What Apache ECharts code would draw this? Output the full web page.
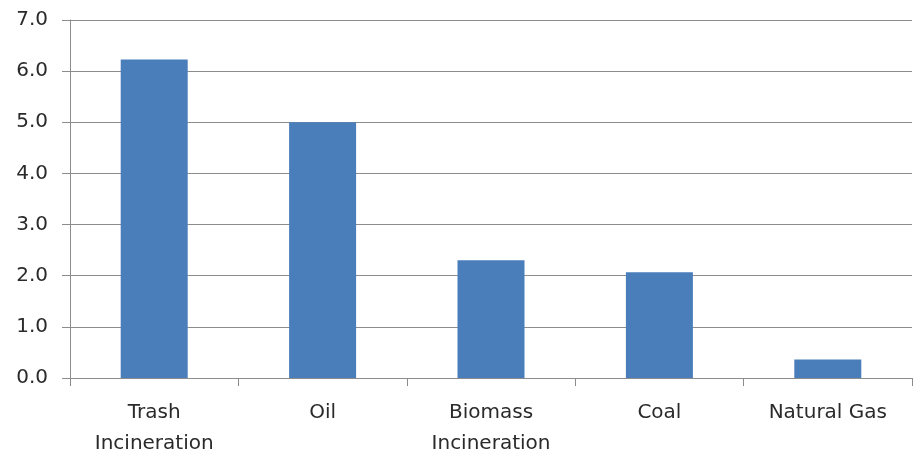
<!DOCTYPE html>
<html>
<head>
<meta charset="utf-8">
<script src="https://cdn.jsdelivr.net/npm/echarts@6/dist/echarts.min.js"></script>
<style>
  html, body { margin: 0; padding: 0; background: #fff; }
  #chart { width: 917px; height: 456px; }
</style>
</head>
<body>
<div id="chart"></div>
<script>
// categories and values
var categories = ['Trash\nIncineration', 'Oil', 'Biomass\nIncineration', 'Coal', 'Natural Gas'];
var values = [6.23, 5.0, 2.3, 2.07, 0.36];
var yTicks = { min: 0, max: 7, interval: 1 };

var chart = echarts.init(document.getElementById('chart'));
var axisColor = '#8c8c8c';
var textColor = '#2a2a2a';
var font = 'DejaVu Sans, Verdana, sans-serif';

chart.setOption({
  animation: false,
  grid: { left: 70, right: 5, top: 20, bottom: 78, outerBoundsMode: 'none', containLabel: false },
  xAxis: {
    type: 'category',
    data: categories,
    axisLine: { lineStyle: { color: axisColor, width: 1 } },
    axisTick: { show: true, length: 8, alignWithLabel: false, lineStyle: { color: axisColor } },
    axisLabel: {
      color: textColor, fontFamily: font, fontSize: 20,
      lineHeight: 31, margin: 19, interval: 0
    }
  },
  yAxis: {
    type: 'value',
    min: yTicks.min,
    max: yTicks.max,
    interval: yTicks.interval,
    axisLine: { show: true, lineStyle: { color: axisColor, width: 1 } },
    axisTick: { show: true, length: 8, lineStyle: { color: axisColor } },
    splitLine: { lineStyle: { color: axisColor, width: 1 } },
    axisLabel: {
      color: textColor, fontFamily: font, fontSize: 20, margin: 22,
      formatter: function (v) { return v.toFixed(1); }
    }
  },
  series: [{
    type: 'bar',
    data: values,
    barWidth: 67,
    itemStyle: { color: '#4a7ebb' }
  }]
});
</script>
</body>
</html>
